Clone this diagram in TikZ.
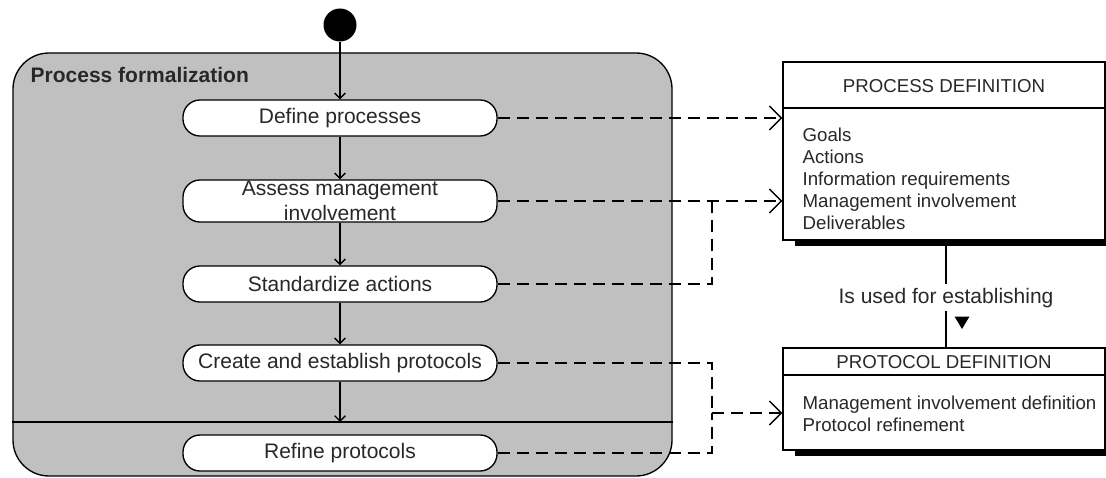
\documentclass[tikz,border=0pt]{standalone}
\usepackage{fontspec}
\setmainfont{Liberation Sans}
\usetikzlibrary{arrows.meta,shadows}
\definecolor{panelgray}{RGB}{192,192,192}
\definecolor{inkgray}{RGB}{40,40,40}

\begin{document}
\begin{tikzpicture}[x=0.75pt,y=-0.75pt,
  line width=1pt,
  every node/.style={text=inkgray},
  container/.style={draw, fill=panelgray, rounded corners=27pt,
    minimum width=494.25pt, minimum height=317.25pt, inner sep=0},
  action/.style={draw, fill=white, rounded corners=12.75pt,
    minimum width=235.5pt, minimum height=27pt, inner sep=0,
    font=\fontsize{15.75pt}{18.75pt}\selectfont, align=center},
  classbox/.style={draw, fill=white, minimum width=241.5pt, inner sep=0,
    drop shadow={shadow xshift=9pt, shadow yshift=-4.5pt, fill=black, opacity=1}},
  classtitle/.style={inner sep=0, font=\fontsize{14pt}{16.5pt}\selectfont},
  classitems/.style={anchor=north west, align=left, inner sep=0,
    font=\fontsize{14pt}{16.5pt}\selectfont},
  flow/.style={-{Straight Barb[length=4pt,width=8pt]}},
  dep/.style={dash pattern=on 9pt off 5.25pt},
  deparrow/.style={dep, -{Straight Barb[length=9pt,width=18pt]}},
]
\useasboundingbox (0,0) rectangle (1106,478);

% composite state with its region divider
\node[container] (pf) at (342.5,264.5) {};
\node[anchor=base west, inner sep=0, font=\bfseries\fontsize{15.75pt}{18pt}\selectfont]
  (pftitle) at (30,83) {Process formalization};
\coordinate (pfsep) at (340,422);
\draw (pf.west |- pfsep) -- (pf.east |- pfsep);

% initial state and activities
\node[circle, fill=black, minimum size=24.75pt, inner sep=0] (start) at (340,25) {};
\node[action] (define) at (340,118) {Define processes};
\node[action, minimum height=31.5pt] (assess) at (340,201) {Assess management\\involvement};
\node[action] (std) at (340,284) {Standardize actions};
\node[action] (create) at (340,363) {Create and establish protocols};
\node[action] (refine) at (340,453) {Refine protocols};

\draw[flow] (start) -- (define);
\draw[flow] (define) -- (assess);
\draw[flow] (assess) -- (std);
\draw[flow] (std) -- (create);
\draw[flow] (create) -- (pfsep);

% process definition class
\node[classbox, minimum height=133.5pt] (pd) at (944,151) {};
\coordinate (pdsep) at (944,108);
\draw (pd.west |- pdsep) -- (pd.east |- pdsep);
\node[classtitle] (pdtitle) at (944,86.4) {PROCESS DEFINITION};
\node[classitems] (pditems) at (802,127.6)
  {Goals\\Actions\\Information requirements\\Management involvement\\Deliverables};

% protocol definition class
\node[classbox, minimum height=76.5pt] (prd) at (944,399) {};
\coordinate (prdsep) at (944,375);
\draw (prd.west |- prdsep) -- (prd.east |- prdsep);
\node[classtitle] (prdtitle) at (944,362.4) {PROTOCOL DEFINITION};
\node[classitems] (prditems) at (802,395)
  {Management involvement definition\\Protocol refinement};

% association between the classes
\node[inner xsep=0, inner ysep=2.25pt, font=\fontsize{15.75pt}{18pt}\selectfont]
  (rel) at (946,297.7) {Is used for establishing};
\draw (rel.north |- pd.south) -- (rel.north);
\draw (rel.south) -- (rel.south |- prd.north);
\fill[black] (954.5,316.5) -- (969.5,316.5) -- (962,329) -- cycle;

% dependencies from activities to classes
\coordinate (jtop) at (712,201);
\coordinate (jbot) at (712,413);
\draw[deparrow] (define.east) -- (define.east -| pd.west);
\draw[deparrow] (assess.east) -- (assess.east -| pd.west);
\draw[dep] (std.east) -| (jtop);
\draw[dep] (create.east) -| (jbot);
\draw[dep] (refine.east) -| (jbot);
\draw[deparrow] (jbot) -- (jbot -| prd.west);
\end{tikzpicture}
\end{document}
